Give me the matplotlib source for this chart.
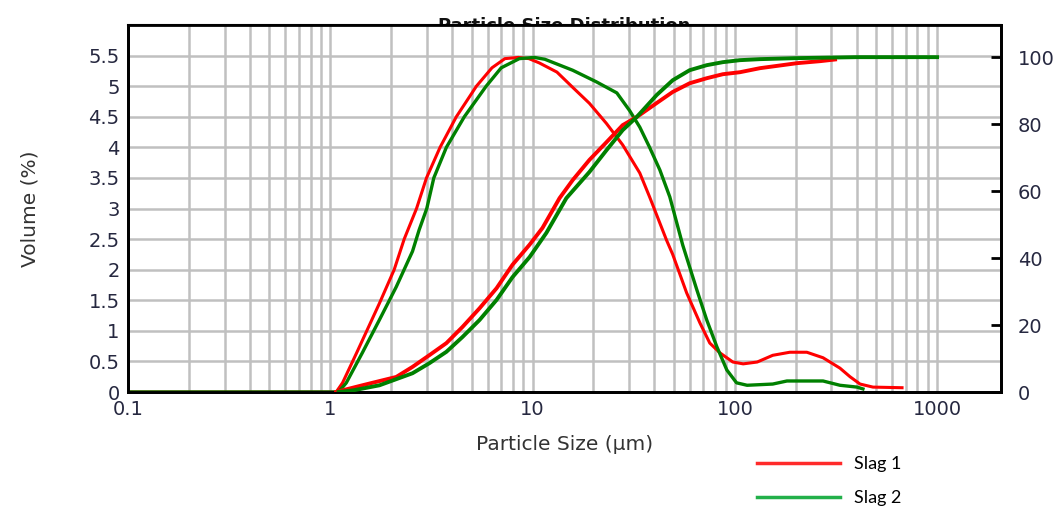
import matplotlib
matplotlib.use("Agg")
import matplotlib.pyplot as plt
from matplotlib.lines import Line2D
from matplotlib.ticker import FixedLocator, NullFormatter

# particle size (um) and volume density (%)
slag1_size = [0.1, 1.07, 1.15, 1.35, 1.75, 2.07, 2.32, 2.67, 2.99, 3.49, 4.2, 5.28, 6.3, 7.3, 8.5, 9.6,
              10.8, 13.2, 15.8, 19.1, 23.2, 27.9, 33.9, 37.9, 46.0, 49.3, 57.8, 67.2, 75.2, 84.4, 97.8,
              110, 129, 154, 187, 227, 273, 331, 371, 416, 482, 671]
slag1_vol = [0, 0, 0.15, 0.64, 1.45, 2.0, 2.5, 3.0, 3.5, 4.0, 4.5, 5.0, 5.3, 5.45, 5.47, 5.45,
             5.38, 5.23, 4.98, 4.72, 4.39, 4.04, 3.58, 3.19, 2.48, 2.25, 1.62, 1.13, 0.8, 0.64, 0.49,
             0.46, 0.49, 0.6, 0.65, 0.65, 0.56, 0.39, 0.25, 0.13, 0.08, 0.07]

slag2_size = [0.1, 1.1, 1.2, 1.44, 1.75, 2.12, 2.55, 2.75, 3.0, 3.25, 3.75, 4.6, 5.9, 7.0, 8.6, 10.2,
              11.5, 15.8, 20.7, 26.1, 30.2, 33.9, 37.9, 42.6, 47.7, 55.3, 64.9, 72.6, 81.5, 91.3,
              102, 115, 154, 181, 273, 331, 402, 430]
slag2_vol = [0, 0, 0.15, 0.64, 1.18, 1.72, 2.3, 2.65, 3.0, 3.5, 4.0, 4.5, 5.0, 5.3, 5.45, 5.47,
             5.44, 5.26, 5.07, 4.89, 4.6, 4.33, 4.0, 3.63, 3.19, 2.4, 1.67, 1.18, 0.74, 0.36,
             0.15, 0.11, 0.13, 0.18, 0.18, 0.11, 0.08, 0.05]

# cumulative volume (%) on the right axis
slag1_cum_size = [1.07, 1.15, 1.44, 2.12, 2.55, 3.09, 3.75, 4.5, 5.47, 6.64, 7.96, 9.67, 11.2, 13.6,
                  15.8, 19.1, 23.2, 27.9, 32.7, 41.1, 49.3, 59.8, 72.6, 87.2, 106, 133, 203, 264, 313]
slag1_cum = [0, 0.5, 2, 4.5, 7.5, 11, 14.6, 19.4, 25, 31, 38, 44, 49, 57.9,
             63.3, 69.3, 74.6, 79.7, 82.1, 86.3, 89.6, 92.2, 93.7, 94.9, 95.5, 96.7, 98.2, 98.8, 99.3]

slag2_cum_size = [1.1, 1.3, 1.75, 2.55, 3.09, 3.75, 4.5, 5.47, 6.64, 7.96, 9.67, 11.7, 14.7, 19.1,
                  23.2, 27.9, 32.7, 41.1, 49.3, 59.8, 72.6, 87.2, 106, 133, 200, 400, 1000]
slag2_cum = [0, 0.5, 2, 5.6, 8.6, 12, 16.4, 21.5, 27.5, 34.3, 40.3, 47.5, 57.9, 65.7,
             72.2, 78.2, 82.1, 88.7, 93.1, 96.1, 97.6, 98.5, 99.1, 99.4, 99.7, 100, 100]

labels = ["Slag 1", "Slag 2"]
x_ticks = [0.1, 1, 10, 100, 1000]
x_ticklabels = ["0.1", "1", "10", "100", "1000"]
y_ticks = [0, 0.5, 1, 1.5, 2, 2.5, 3, 3.5, 4, 4.5, 5, 5.5]
y_ticklabels = ["0", "0.5", "1", "1.5", "2", "2.5", "3", "3.5", "4", "4.5", "5", "5.5"]
y2_ticks = [0, 20, 40, 60, 80, 100]

red = "#ff0000"
green = "#008000"
txt = "#262840"

plt.rcParams["font.family"] = ["DejaVu Sans"]
fig = plt.figure(figsize=(10.58, 5.11), dpi=100)
ax = fig.add_axes([128 / 1058, 1 - 392 / 511, (1001 - 128) / 1058, (392 - 25) / 511])
ax.set_xscale("log")
ax.set_xlim(0.1, 2070)
ax.set_ylim(0, 6.0)

minor = [d * 10.0 ** k for k in range(-1, 3) for d in range(2, 10)]
ax.xaxis.set_major_locator(FixedLocator(x_ticks))
ax.xaxis.set_minor_locator(FixedLocator(minor))
ax.xaxis.set_minor_formatter(NullFormatter())
ax.set_xticklabels(x_ticklabels)
ax.set_yticks(y_ticks)
ax.set_yticklabels(y_ticklabels)
ax.grid(True, which="both", axis="x", color="#c0c0c0", linewidth=1.8)
ax.grid(True, which="major", axis="y", color="#c0c0c0", linewidth=1.8)
ax.set_axisbelow(True)
ax.tick_params(axis="both", which="both", length=0, labelsize=14, colors=txt)
ax.tick_params(axis="x", pad=6)
ax.tick_params(axis="y", pad=6)

ax.plot(slag1_size, slag1_vol, color=red, lw=2.2, zorder=3)
ax.plot(slag2_size, slag2_vol, color=green, lw=2.4, zorder=4)

ax.set_xlabel("Particle Size (\u00b5m)", fontsize=14.5, color="#333333", labelpad=11)
ax.set_ylabel("Volume (%)", fontsize=14.5, color="#333333", labelpad=35)

ax2 = ax.twinx()
ax2.set_ylim(0, 109.6)
ax2.set_yticks(y2_ticks)
ax2.tick_params(axis="y", direction="in", length=7, width=2, labelsize=14, colors=txt, pad=12)
ax2.tick_params(axis="y", color="black")
ax2.plot(slag1_cum_size, slag1_cum, color=red, lw=2.8, zorder=3)
ax2.plot(slag2_cum_size, slag2_cum, color=green, lw=2.8, zorder=4)

for a in (ax, ax2):
    for s in a.spines.values():
        s.set_color("black")
        s.set_linewidth(2)
ax.spines["top"].set_linewidth(1.5)

# title sits behind the axes so the frame cuts its lower edge
fig.text(564.5 / 1058, 1 - 31 / 511, "Particle Size Distribution", ha="center", va="baseline",
         fontsize=13, fontweight="bold", color="#111111", zorder=-1)

handles = [Line2D([], [], color="#ff2a2a", lw=2.5), Line2D([], [], color="#22b04a", lw=2.5)]
fig.legend(handles, labels, loc="upper left", bbox_to_anchor=(757 / 1058, 1 - 456 / 511),
           frameon=False, borderpad=0, borderaxespad=0, handlelength=4.6, handletextpad=0.8,
           labelspacing=1.0, prop={"family": "Lato", "size": 13})

fig.savefig("out.png", dpi=100, facecolor="white")
